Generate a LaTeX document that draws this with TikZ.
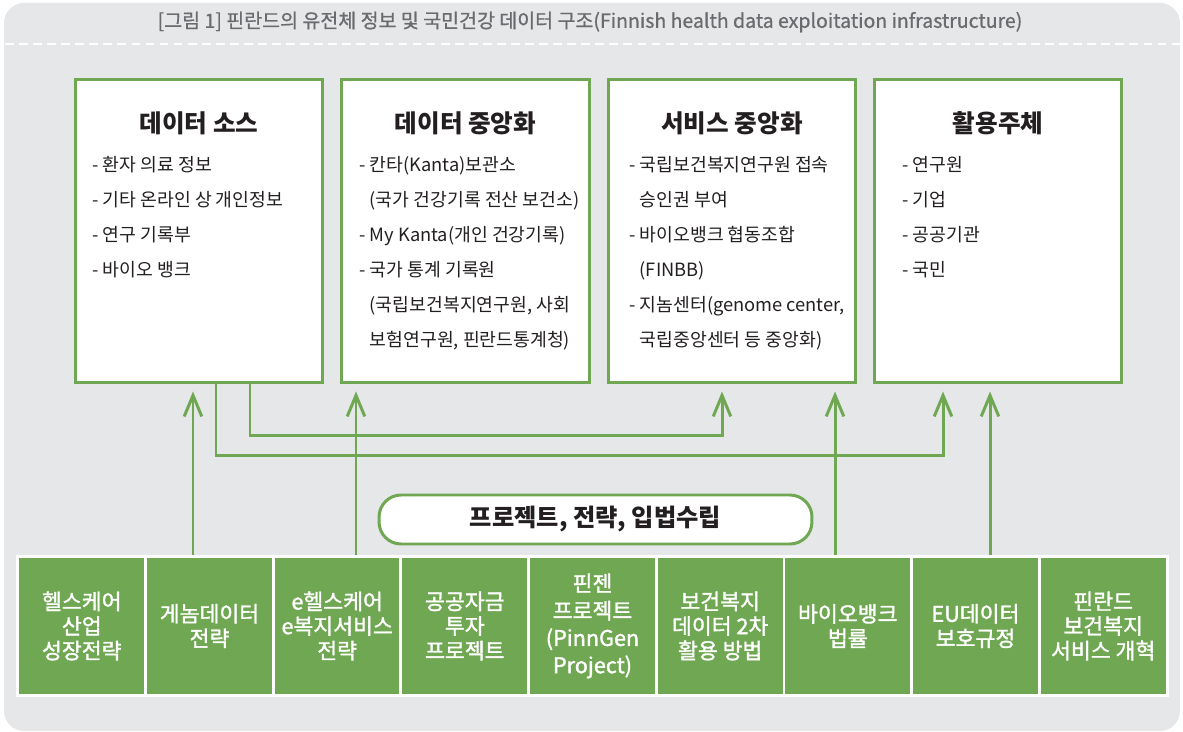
\documentclass[tikz,border=0pt]{standalone}
\usepackage{fontspec}
\usetikzlibrary{arrows.meta}
\newfontfamily\kr{Noto Sans CJK KR}
\newfontfamily\krm[FakeBold=1.5]{Noto Sans CJK KR}
\newfontfamily\krt[FakeBold=0.8]{Noto Sans CJK KR}
\definecolor{gr}{RGB}{112,167,82}
\definecolor{pn}{RGB}{230,231,232}
\definecolor{ink}{RGB}{35,31,32}
\definecolor{cap}{RGB}{106,107,110}
\begin{document}
\begin{tikzpicture}[x=0.02cm, y=-0.02cm]
	\tikzset{bx/.style={draw=gr, fill=white, line width=1.7pt, minimum width=4.96cm, minimum height=6.08cm, inner sep=0pt},
		hd/.style={text=ink, font=\kr\bfseries\fontsize{14}{16}\selectfont},
		ls/.style={anchor=base west, inner sep=0pt, text=ink, font=\kr\fontsize{10.4}{19.9}\selectfont},
		cl/.style={draw=white, fill=gr, line width=1.7pt, minimum width=2.553cm, minimum height=2.8cm, text=white, align=center, font=\krm\fontsize{12.3}{14}\selectfont},
		ar/.style={draw=gr, line width=1.7pt, -{Straight Barb[length=12pt, width=10pt]}, shorten >=4pt}}
	\useasboundingbox (0,0) rectangle (1183,732);

	\fill[pn, rounded corners=0.4cm] (4,3) rectangle (1180,731);
	\draw[white, line width=1.2pt, dash pattern=on 5pt off 3pt] (5,44) -- (1180,44);
	\node[text=cap, font=\krt\fontsize{11.1}{13}\selectfont] (ttl) at (590,22) {[그림 1] 핀란드의 유전체 정보 및 국민건강 데이터 구조(Finnish health data exploitation infrastructure)};

	\node[bx] (d1) at (199,231) {};
	\node[bx] (d2) at (465.5,231) {};
	\node[bx] (d3) at (732,231) {};
	\node[bx] (d4) at (998,231) {};

	\node[hd] (t1) at (199,123) {데이터 소스};
	\node[hd] (t2) at (465.5,123) {데이터 중앙화};
	\node[hd] (t3) at (732,123) {서비스 중앙화};
	\node[hd] (t4) at (998,123) {활용주체};

	\node[ls] (l1) at (92,172) {\begin{tabular}[t]{@{}l@{}}
		- 환자 의료 정보\\
		- 기타 온라인 상 개인정보\\
		- 연구 기록부\\
		- 바이오 뱅크
	\end{tabular}};
	\node[ls] (l2) at (359,172) {\begin{tabular}[t]{@{}l@{}}
		- 칸타(Kanta)보관소\\
		\hphantom{- }(국가 건강기록 전산 보건소)\\
		- My Kanta(개인 건강기록)\\
		- 국가 통계 기록원\\
		\hphantom{- }(국립보건복지연구원, 사회\\
		\hphantom{- }보험연구원, 핀란드통계청)
	\end{tabular}};
	\node[ls] (l3) at (629,172) {\begin{tabular}[t]{@{}l@{}}
		- 국립보건복지연구원 접속\\
		\hphantom{- }승인권 부여\\
		- 바이오뱅크 협동조합\\
		\hphantom{- }(FINBB)\\
		- 지놈센터(genome center,\\
		\hphantom{- }국립중앙센터 등 중앙화)
	\end{tabular}};
	\node[ls] (l4) at (902,172) {\begin{tabular}[t]{@{}l@{}}
		- 연구원\\
		- 기업\\
		- 공공기관\\
		- 국민
	\end{tabular}};

	\node[cl] (b1) at (81.8,626) {헬스케어\\산업\\성장전략};
	\node[cl] (b2) at (209.5,626) {게놈데이터\\전략};
	\node[cl] (b3) at (337.2,626) {e헬스케어\\e복지서비스\\전략};
	\node[cl] (b4) at (464.8,626) {공공자금\\투자\\프로젝트};
	\node[cl, font=\krm\fontsize{12.3}{15.5}\selectfont] (b5) at (592.5,626) {핀젠\\프로젝트\\(PinnGen\\Project)};
	\node[cl] (b6) at (720.2,626) {보건복지\\데이터 2차\\활용 방법};
	\node[cl] (b7) at (847.8,626) {바이오뱅크\\법률};
	\node[cl] (b8) at (975.5,626) {EU데이터\\보호규정};
	\node[cl] (b9) at (1103.2,626) {핀란드\\보건복지\\서비스 개혁};

	\node[draw=gr, fill=white, line width=1.7pt, rounded corners=0.44cm, minimum width=8.66cm, minimum height=0.98cm, text=ink, font=\kr\bfseries\fontsize{13.8}{16}\selectfont] (p) at (595.5,519.5) {프로젝트, 전략, 입법수립};

	\draw[ar] (d1.south -| 250,0) -- ++(0,51.5) -| (d3.south -| 722,0);
	\draw[ar] (d1.south -| 216,0) -- ++(0,71.5) -| (d4.south -| 943,0);

	\draw[ar] (b2.north -| 193,0) -- (d1.south -| 193,0);
	\draw[ar] (b3.north -| 356,0) -- (d2.south -| 356,0);
	\draw[ar] (b7.north -| 835,0) -- (d3.south -| 835,0);
	\draw[ar] (b8.north -| 990,0) -- (d4.south -| 990,0);

\end{tikzpicture}
\end{document}
